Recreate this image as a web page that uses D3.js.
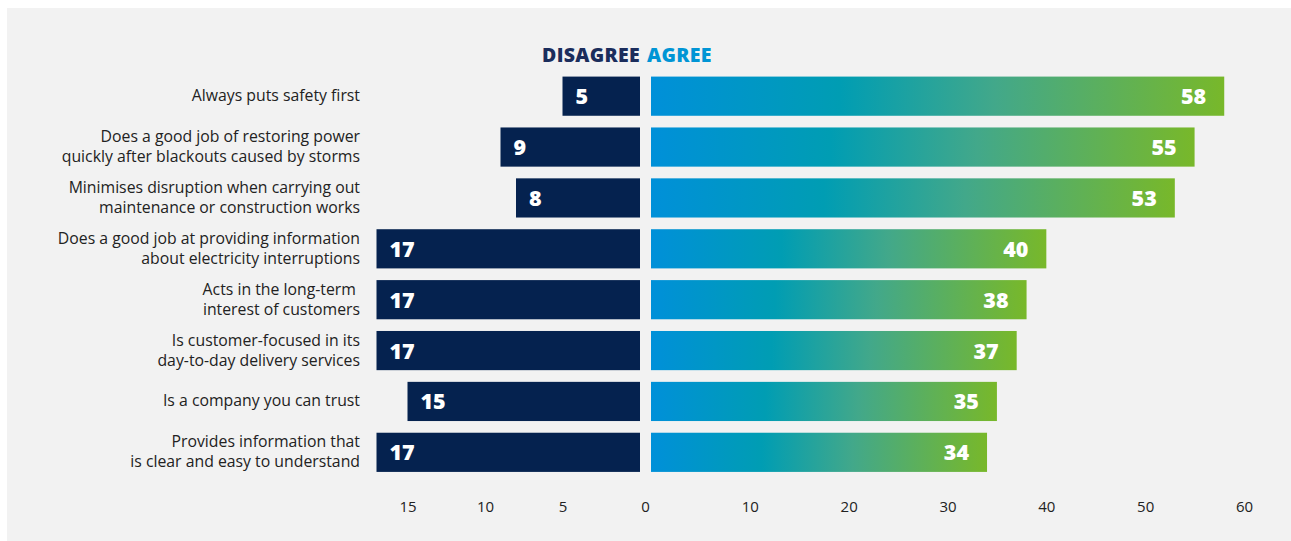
<!DOCTYPE html>
<html><head><meta charset="utf-8">
<script src="https://cdn.jsdelivr.net/npm/d3@7"></script>
<style>
html,body{margin:0;padding:0;background:#fff;}
svg{display:block;}
text{font-family:"Open Sans","Noto Sans",sans-serif;}
</style></head><body>
<svg id="chart" width="1291" height="541"></svg>
<script>
const categories = [
  ["Always puts safety first"],
  ["Does a good job of restoring power","quickly after blackouts caused by storms"],
  ["Minimises disruption when carrying out","maintenance or construction works"],
  ["Does a good job at providing information","about electricity interruptions"],
  ["Acts in the long-term ","interest of customers"],
  ["Is customer-focused in its","day-to-day delivery services"],
  ["Is a company you can trust"],
  ["Provides information that","is clear and easy to understand"]
];
const disagree = [5, 9, 8, 17, 17, 17, 15, 17];
const agree = [58, 55, 53, 40, 38, 37, 35, 34];
const disagreeTicks = [15, 10, 5];
const agreeTicks = [10, 20, 30, 40, 50, 60];

const svg = d3.select("#chart");
svg.append("rect").attr("x",7).attr("y",8).attr("width",1284).attr("height",533).attr("fill","#f2f2f2");

const defs = svg.append("defs");
const grad = defs.append("linearGradient").attr("id","agreeGrad").attr("x1","0").attr("x2","1").attr("y1","0").attr("y2","0");
grad.append("stop").attr("offset","0").attr("stop-color","#0090d9");
grad.append("stop").attr("offset","0.33").attr("stop-color","#009db3");
grad.append("stop").attr("offset","0.6").attr("stop-color","#42a88a");
grad.append("stop").attr("offset","1").attr("stop-color","#78b82a");

const idx = d3.range(categories.length);
const y = d3.scaleBand().domain(idx).range([71.5, 477]).paddingInner(0.23).paddingOuter(0.1);
const xL = d3.scaleLinear().domain([0, 15]).range([640, 407.5]);
const xR = d3.scaleLinear().domain([0, 60]).range([651, 1244]);

const navy = "#05224f";

// header
svg.append("text").attr("x", 640).attr("y", 62).attr("text-anchor","end")
  .attr("font-size",19.5).attr("font-weight",800).attr("letter-spacing",0.3).attr("fill","#1b2d5c").text("DISAGREE");
svg.append("text").attr("x", 647).attr("y", 62)
  .attr("font-size",19.5).attr("font-weight",800).attr("letter-spacing",0.3).attr("fill","#0095d5").text("AGREE");

// disagree bars
svg.selectAll("rect.dis").data(idx).join("rect").attr("class","dis")
  .attr("x", i => xL(disagree[i])).attr("y", i => y(i))
  .attr("width", i => xL(0) - xL(disagree[i])).attr("height", y.bandwidth())
  .attr("fill", navy);
svg.selectAll("text.disv").data(idx).join("text").attr("class","disv")
  .attr("x", i => xL(disagree[i]) + 13).attr("y", i => y(i) + y.bandwidth()/2 + 8)
  .attr("font-size", 21.5).attr("font-weight", 800).attr("fill","#fff")
  .text(i => disagree[i]);

// agree bars
svg.selectAll("rect.agr").data(idx).join("rect").attr("class","agr")
  .attr("x", xR(0)).attr("y", i => y(i))
  .attr("width", i => xR(agree[i]) - xR(0)).attr("height", y.bandwidth())
  .attr("fill", "url(#agreeGrad)");
svg.selectAll("text.agrv").data(idx).join("text").attr("class","agrv")
  .attr("x", i => xR(agree[i]) - 18).attr("y", i => y(i) + y.bandwidth()/2 + 8)
  .attr("text-anchor","end")
  .attr("font-size", 21.5).attr("font-weight", 800).attr("fill","#fff")
  .text(i => agree[i]);

// category labels
const lab = svg.selectAll("text.cat").data(idx).join("text").attr("class","cat")
  .attr("text-anchor","end").attr("font-size",15.8).attr("fill","#222");
lab.each(function(i){
  const lines = categories[i];
  const cy = y(i) + y.bandwidth()/2;
  const lh = 20;
  const t = d3.select(this);
  lines.forEach((l, k) => {
    t.append("tspan").attr("x", 360)
      .attr("y", cy + 5 + (k - (lines.length-1)/2) * lh)
      .text(l);
  });
});

// axes
const axY = 512;
const gL = svg.append("g").attr("transform", `translate(0,${axY})`)
  .call(d3.axisBottom(xL).tickValues(disagreeTicks).tickSize(0).tickPadding(0));
const gR = svg.append("g").attr("transform", `translate(0,${axY})`)
  .call(d3.axisBottom(xR).tickValues(agreeTicks).tickSize(0).tickPadding(0));
[gL, gR].forEach(g => {
  g.select(".domain").remove();
  g.selectAll("text").attr("font-size",15).attr("fill","#222").attr("dy",0)
    .attr("font-family","'Open Sans', 'Noto Sans', sans-serif");
});
svg.append("text").attr("x", (xL(0)+xR(0))/2).attr("y", axY).attr("text-anchor","middle")
  .attr("font-size",15).attr("fill","#222").text("0");
</script>
</body></html>
